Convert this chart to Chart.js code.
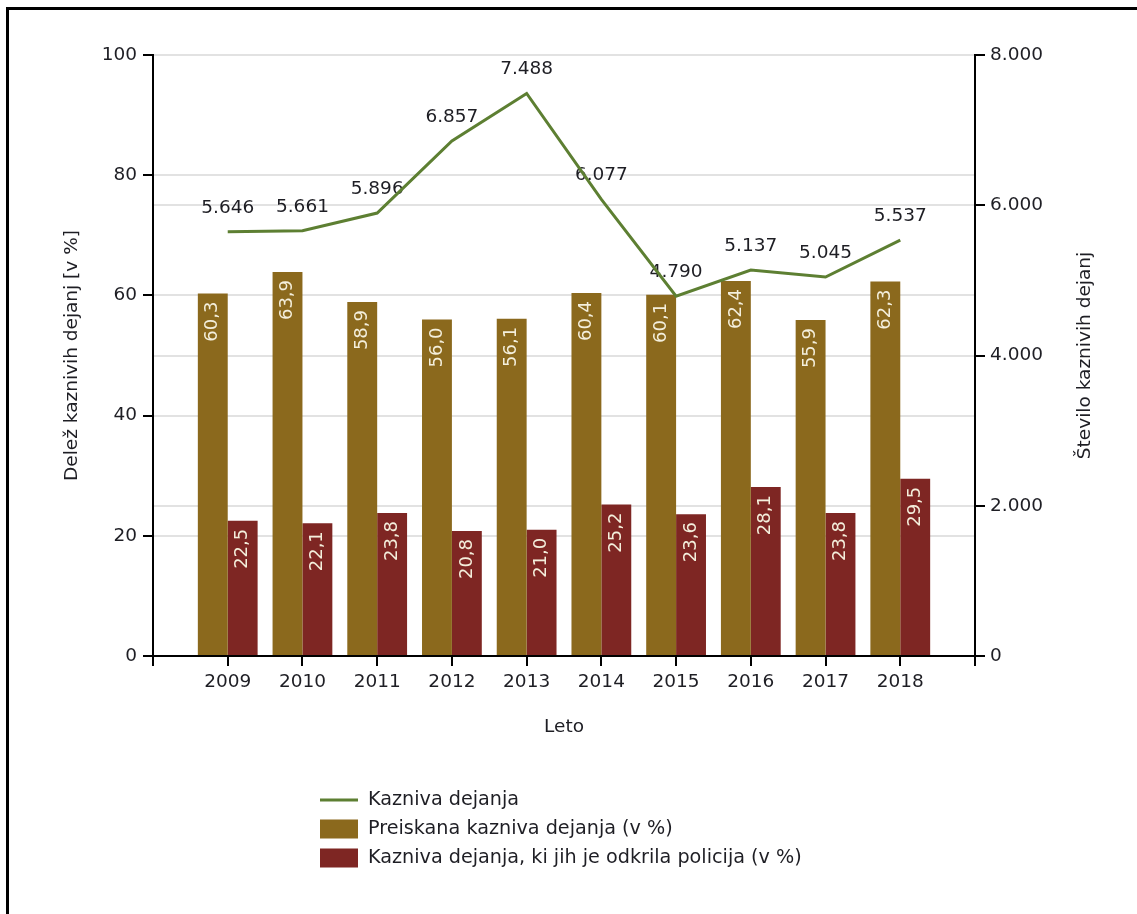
<!DOCTYPE html>
<html>
<head>
<meta charset="utf-8">
<script src="https://cdn.jsdelivr.net/npm/chart.js@4/dist/chart.umd.min.js"></script>
<style>
  html, body { margin: 0; padding: 0; background: #fff; }
  #wrap { position: relative; width: 1137px; height: 914px; overflow: hidden; }
  #frame { position: absolute; left: 6px; top: 7px; width: 1200px; height: 1000px;
           border-left: 3px solid #000; border-top: 3px solid #000; }
  #c { position: absolute; left: 0; top: 0; }
</style>
</head>
<body>
<div id="wrap">
  <div id="frame"></div>
  <canvas id="c" width="1137" height="914"></canvas>
</div>
<script>
const years = [2009, 2010, 2011, 2012, 2013, 2014, 2015, 2016, 2017, 2018];
const kazniva = [5646, 5661, 5896, 6857, 7488, 6077, 4790, 5137, 5045, 5537];
const preiskana = [60.3, 63.9, 58.9, 56.0, 56.1, 60.4, 60.1, 62.4, 55.9, 62.3];
const policija = [22.5, 22.1, 23.8, 20.8, 21.0, 25.2, 23.6, 28.1, 23.8, 29.5];
const seriesNames = ['Kazniva dejanja', 'Preiskana kazniva dejanja (v %)', 'Kazniva dejanja, ki jih je odkrila policija (v %)'];
const leftTitle = 'Delež kaznivih dejanj [v %]';
const rightTitle = 'Število kaznivih dejanj';
const xTitle = 'Leto';

const FONT = 'DejaVu Sans';
const FS = 18.5;
const LFS = 19.2;
const TXT = '#1e1e24';
const GREEN = '#5d7f32';
const GOLD = '#8b691d';
const RED = '#7e2623';
const GRID = '#e2e2e2';

function thousands(v) { return String(Math.round(v)).replace(/\B(?=(\d{3})+(?!\d))/g, '.'); }
function dec1(v) { return v.toFixed(1).replace('.', ','); }

const labelPlugin = {
  id: 'labels',
  beforeDatasetDraw(chart, args) {
    if (args.index !== 0) return;
    const ctx = chart.ctx;
    ctx.save();
    // bar labels
    ctx.font = '18px "' + FONT + '"';
    ctx.fillStyle = '#f4efdc';
    [1, 2].forEach(di => {
      const meta = chart.getDatasetMeta(di);
      const vals = chart.data.datasets[di].data;
      meta.data.forEach((el, i) => {
        ctx.save();
        ctx.translate(el.x, el.y + 8);
        ctx.rotate(-Math.PI / 2);
        ctx.textAlign = 'right';
        ctx.textBaseline = 'middle';
        ctx.fillText(dec1(vals[i]), 0, 0);
        ctx.restore();
      });
    });
    // line labels
    ctx.font = FS + 'px "' + FONT + '"';
    ctx.fillStyle = TXT;
    ctx.textAlign = 'center';
    ctx.textBaseline = 'middle';
    const lm = chart.getDatasetMeta(0);
    lm.data.forEach((el, i) => {
      ctx.fillText(thousands(chart.data.datasets[0].data[i]), el.x, el.y - 24);
    });
    ctx.restore();
  },
  afterDraw(chart) {
    const ctx = chart.ctx;
    const ca = chart.chartArea;
    ctx.save();
    // right axis title (reads bottom to top)
    ctx.font = FS + 'px "' + FONT + '"';
    ctx.fillStyle = TXT;
    ctx.translate(1085, (ca.top + ca.bottom) / 2);
    ctx.rotate(-Math.PI / 2);
    ctx.textAlign = 'center';
    ctx.textBaseline = 'middle';
    ctx.fillText(rightTitle, 0, 0);
    ctx.restore();
    // legend
    ctx.save();
    ctx.font = LFS + 'px "' + FONT + '"';
    ctx.textAlign = 'left';
    ctx.textBaseline = 'middle';
    const rows = [800, 829, 858];
    chart.data.datasets.forEach((ds, i) => {
      const y = rows[i];
      if (ds.type === 'line') {
        ctx.strokeStyle = ds.borderColor;
        ctx.lineWidth = 3;
        ctx.beginPath();
        ctx.moveTo(320, y);
        ctx.lineTo(358, y);
        ctx.stroke();
      } else {
        ctx.fillStyle = ds.backgroundColor;
        ctx.fillRect(320, y - 9.5, 38, 19);
      }
      ctx.fillStyle = TXT;
      ctx.fillText(ds.label, 368, y);
    });
    ctx.restore();
  }
};

const chart = new Chart(document.getElementById('c'), {
  type: 'bar',
  data: {
    labels: years,
    datasets: [
      { type: 'line', label: seriesNames[0], data: kazniva, yAxisID: 'y1', order: 0,
        borderColor: GREEN, backgroundColor: GREEN, borderWidth: 3, pointRadius: 0, tension: 0, fill: false },
      { type: 'bar', label: seriesNames[1], data: preiskana, yAxisID: 'y', order: 1,
        backgroundColor: GOLD, borderWidth: 0, categoryPercentage: 0.8, barPercentage: 1.0 },
      { type: 'bar', label: seriesNames[2], data: policija, yAxisID: 'y', order: 1,
        backgroundColor: RED, borderWidth: 0, categoryPercentage: 0.8, barPercentage: 1.0 }
    ]
  },
  options: {
    responsive: false,
    animation: false,
    events: [],
    layout: { padding: { top: 55, bottom: 158, left: 0, right: 0 } },
    plugins: { legend: { display: false }, tooltip: { enabled: false } },
    scales: {
      x: {
        type: 'linear', min: 2008, max: 2019, offset: false,
        afterFit(s) { s.height = 100; },
        ticks: { stepSize: 1, autoSkip: false, maxRotation: 0, padding: 5, color: TXT,
          font: { family: FONT, size: FS },
          callback: v => (v >= 2009 && v <= 2018) ? String(v) : '' },
        grid: { offset: false, drawOnChartArea: false, drawTicks: true, tickLength: 10, color: '#000', tickColor: '#000', lineWidth: 2 },
        border: { display: true, color: '#000', width: 2 },
        title: { display: true, text: xTitle, color: TXT, font: { family: FONT, size: FS }, padding: { top: 0, bottom: 18 } }
      },
      y: {
        position: 'left', min: 0, max: 100,
        afterFit(s) { s.width = 153; },
        ticks: { stepSize: 20, padding: 6, color: TXT, font: { family: FONT, size: FS } },
        grid: { color: GRID, tickColor: '#000', lineWidth: 2, tickLength: 10 },
        border: { display: true, color: '#000', width: 2 },
        title: { display: true, text: leftTitle, color: TXT, font: { family: FONT, size: FS }, padding: { top: 61, bottom: 0 } }
      },
      y1: {
        position: 'right', min: 0, max: 8000,
        afterFit(s) { s.width = 162; },
        ticks: { stepSize: 2000, padding: 5, color: TXT, font: { family: FONT, size: FS }, callback: v => thousands(v) },
        grid: { color: GRID, tickColor: '#000', lineWidth: 2, tickLength: 10 },
        border: { display: true, color: '#000', width: 2 }
      }
    }
  },
  plugins: [labelPlugin]
});
</script>
</body>
</html>
